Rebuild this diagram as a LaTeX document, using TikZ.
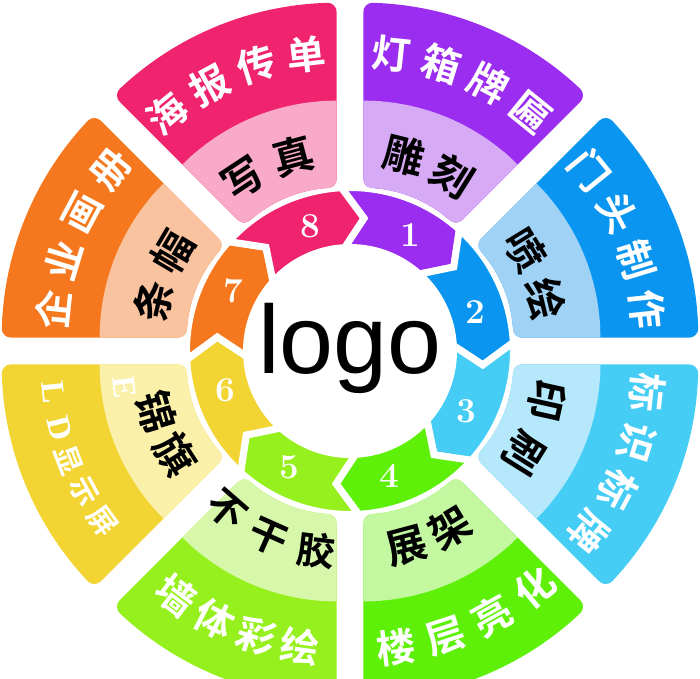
\documentclass[tikz,border=0pt]{standalone}
\usepackage{fontspec}
\newfontfamily\song{Noto Sans CJK SC}[BoldFont={* Bold}]
\newfontfamily\logofont{Liberation Sans}
\newfontfamily\latserif{Liberation Serif}
\definecolor{cPur}{HTML}{9B2DF0}\definecolor{lPur}{HTML}{D7AAF5}
\definecolor{cBlu}{HTML}{0A96F0}\definecolor{lBlu}{HTML}{A0D2F5}
\definecolor{cCya}{HTML}{46CDF5}\definecolor{lCya}{HTML}{B4E8FA}
\definecolor{cGrn}{HTML}{5FF00A}\definecolor{lGrn}{HTML}{C3F8A0}
\definecolor{cLim}{HTML}{96F01E}\definecolor{lLim}{HTML}{D7F8AA}
\definecolor{cYel}{HTML}{F2D432}\definecolor{lYel}{HTML}{FAF0AA}
\definecolor{cOra}{HTML}{F5781E}\definecolor{lOra}{HTML}{FAC3A0}
\definecolor{cPin}{HTML}{F0236E}\definecolor{lPin}{HTML}{F8AAC8}
\tikzset{
  otext/.style={font=\song\bfseries\fontsize{39}{39}\selectfont, text=white, inner sep=0pt},
  stext/.style={font=\song\bfseries\fontsize{29}{29}\selectfont, text=white, inner sep=0pt},
  ltext/.style={font=\latserif\bfseries\fontsize{33}{33}\selectfont, text=white, inner sep=0pt},
  itext/.style={font=\song\bfseries\fontsize{41}{41}\selectfont, text=black, inner sep=0pt},
  itextsm/.style={font=\song\bfseries\fontsize{38}{38}\selectfont, text=black, inner sep=0pt},
  numtext/.style={font=\fontsize{35}{35}\selectfont\bfseries, text=white, inner sep=0pt},
  secfill/.style={fill=#1, draw=#1, line width=18pt, line join=round},
  ringseg/.style={fill=#1, draw=white, line width=7pt, line join=miter},
}
\newcommand\secshape[1]{(#1+18.82:140pt) -- (#1+20.82:307pt) arc[start angle=#1+20.82, end angle=#1-20.82, radius=307pt] -- (#1-18.82:140pt) arc[start angle=#1-18.82, end angle=#1+18.82, radius=140pt] -- cycle}
\newcommand\osector[3]{%
  \path[secfill=#2] \secshape{#1};
  \begin{scope}
    \clip (0,0) circle[radius=218pt];
    \path[secfill=#3] \secshape{#1};
  \end{scope}}
\newcommand\chOo[3]{\node[otext, rotate=#2-90] (#1) at (#2:266pt) {#3};}
\newcommand\chOi[3]{\node[otext, rotate=#2+90] (#1) at (#2:266pt) {#3};}
\newcommand\chIo[3]{\node[itext, rotate=#2-90] (#1) at (#2:168pt) {#3};}
\newcommand\chIi[3]{\node[itext, rotate=#2+90] (#1) at (#2:168pt) {#3};}
\begin{document}
\begin{tikzpicture}[x=1pt,y=1pt]
\path[use as bounding box] (-350,-327) rectangle (350,351);
\clip (-350,-327) rectangle (350,351);
\fill[white] (-350,-327) rectangle (350,351);

% inner ring of arrows
\foreach \k/\col in {1/cPur,2/cBlu,3/cCya,4/cGrn,5/cLim,6/cYel,7/cOra,8/cPin}{
  \pgfmathsetmacro\ta{84-45*(\k-1)}
  \pgfmathsetmacro\tb{\ta-45}
  \pgfmathsetmacro\tm{\ta-21.5}
  \path[ringseg=\col] (\ta+9:163.5pt) arc[start angle=\ta+9, end angle=\tb+9, radius=163.5pt]
     -- (\tb:133.5pt) -- (\tb+9:103.5pt)
     arc[start angle=\tb+9, end angle=\ta+9, radius=103.5pt] -- (\ta:133.5pt) -- cycle;
  \node[numtext] (n\k) at (\tm:131pt) {\k};
}

% sector 1: top right
\begin{scope}[shift={(67.5:35pt)}]
  \osector{67.5}{cPur}{lPur}
  \chOo{s1a}{84}{灯}\chOo{s1b}{73}{箱}\chOo{s1c}{62}{牌}\chOo{s1d}{51}{匾}
  \chIo{s1e}{76}{雕}\chIo{s1f}{58}{刻}
\end{scope}
% sector 2
\begin{scope}[shift={(22.5:35pt)}]
  \osector{22.5}{cBlu}{lBlu}
  \chOo{s2a}{39}{门}\chOo{s2b}{28}{头}\chOo{s2c}{17}{制}\chOo{s2d}{6}{作}
  \chIo{s2e}{31.5}{喷}\chIo{s2f}{13.5}{绘}
\end{scope}
% sector 3
\begin{scope}[shift={(-22.5:35pt)}]
  \osector{-22.5}{cCya}{lCya}
  \chOo{s3a}{-6}{标}\chOo{s3b}{-17}{识}\chOo{s3c}{-28}{标}\chOo{s3d}{-39}{牌}
  \chIo{s3e}{-12.5}{印}\chIo{s3f}{-32}{刷}
\end{scope}
% sector 4
\begin{scope}[shift={(-67.5:35pt)}]
  \osector{-67.5}{cGrn}{lGrn}
  \chOi{s4a}{-83}{楼}\chOi{s4b}{-72}{层}\chOi{s4c}{-61}{亮}\chOi{s4d}{-50}{化}
  \chIi{s4e}{-75}{展}\chIi{s4f}{-59}{架}
\end{scope}
% sector 5
\begin{scope}[shift={(-112.5:35pt)}]
  \osector{-112.5}{cLim}{lLim}
  \chOi{s5a}{-127}{墙}\chOi{s5b}{-117.3}{体}\chOi{s5c}{-107.6}{彩}\chOi{s5d}{-97.9}{绘}
  \node[itextsm, rotate=-41] (s5e) at (-131:168pt) {不};
  \node[itextsm, rotate=-24] (s5f) at (-114:168pt) {干};
  \node[itextsm, rotate=-7] (s5g) at (-97:168pt) {胶};
\end{scope}
% sector 6
\begin{scope}[shift={(-157.5:35pt)}]
  \osector{-157.5}{cYel}{lYel}
  \node[ltext, rotate=-84] (s6a) at (-174:266pt) {L};
  \node[ltext, rotate=-76] (s6b) at (-166:266pt) {D};
  \node[stext, rotate=-69] (s6c) at (-159:266pt) {显};
  \node[stext, rotate=-61.5] (s6d) at (-151.5:266pt) {示};
  \node[stext, rotate=-54] (s6e) at (-144:266pt) {屏};
  \node[ltext, rotate=-83.3] (s6f) at (-173.3:194pt) {E};
  \chIi{s6g}{-163.6}{锦}\chIi{s6h}{-147.6}{旗}
\end{scope}
% sector 7
\begin{scope}[shift={(157.5:35pt)}]
  \osector{157.5}{cOra}{lOra}
  \chOo{s7a}{174}{企}\chOo{s7b}{163}{业}\chOo{s7c}{152}{画}\chOo{s7d}{141}{册}
  \chIo{s7e}{167.5}{条}\chIo{s7f}{149.5}{幅}
\end{scope}
% sector 8
\begin{scope}[shift={(112.5:35pt)}]
  \osector{112.5}{cPin}{lPin}
  \chOo{s8a}{129.5}{海}\chOo{s8b}{118.5}{报}\chOo{s8c}{107.5}{传}\chOo{s8d}{96.5}{单}
  \chIo{s8e}{123.5}{写}\chIo{s8f}{105}{真}
\end{scope}

\node[font=\logofont\fontsize{97}{97}\selectfont, anchor=base, inner sep=0pt] (logo) at (0,-22) {logo};
\end{tikzpicture}
\end{document}
